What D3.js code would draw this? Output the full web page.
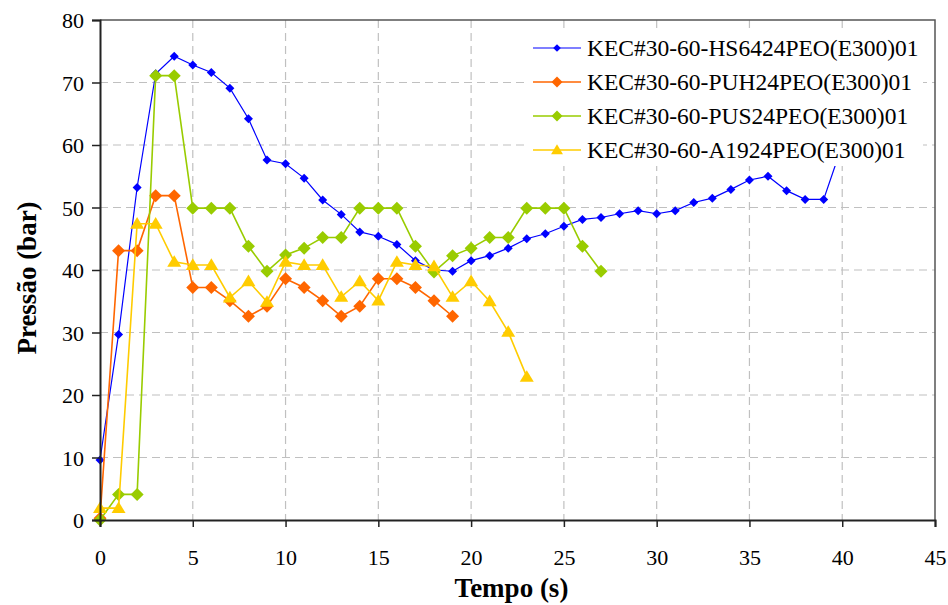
<!DOCTYPE html>
<html>
<head>
<meta charset="utf-8">
<script src="https://cdn.jsdelivr.net/npm/d3@7"></script>
<style>
  body { margin: 0; background: #fff; }
</style>
</head>
<body>
<svg id="chart" width="948" height="605"></svg>
<script>
// ── 데이터 ──────────────────────────────────────────────
const seriesNames = [
  "KEC#30-60-HS6424PEO(E300)01",
  "KEC#30-60-PUH24PEO(E300)01",
  "KEC#30-60-PUS24PEO(E300)01",
  "KEC#30-60-A1924PEO(E300)01"
];
// 시간 t = 0,1,2,... (s)
const hs6424 = [9.6, 29.7, 53.2, 71.4, 74.2, 72.8, 71.6, 69.1, 64.2, 57.6, 57.0, 54.7, 51.2,
  48.9, 46.1, 45.4, 44.1, 41.5, 40.0, 39.8, 41.5, 42.3, 43.5, 45.0, 45.8, 47.0, 48.1, 48.4,
  49.0, 49.5, 49.0, 49.5, 50.8, 51.5, 52.9, 54.4, 55.0, 52.7, 51.3, 51.3, 60.0];
const puh24 = [0.3, 43.1, 43.1, 51.9, 51.9, 37.2, 37.2, 35.1, 32.6, 34.2, 38.6, 37.2, 35.1,
  32.6, 34.2, 38.6, 38.6, 37.2, 35.1, 32.6];
const pus24 = [0.0, 4.1, 4.1, 71.1, 71.1, 49.9, 49.9, 49.9, 43.8, 39.8, 42.4, 43.5, 45.2,
  45.2, 49.9, 49.9, 49.9, 43.8, 39.7, 42.3, 43.5, 45.2, 45.2, 49.9, 49.9, 49.9, 43.8, 39.8];
const a1924 = [1.9, 1.9, 47.4, 47.4, 41.3, 40.8, 40.8, 35.6, 38.2, 34.9, 41.3, 40.8, 40.8,
  35.7, 38.2, 35.1, 41.3, 40.8, 40.6, 35.7, 38.2, 35.0, 30.1, 22.9];
const xTicks = [0, 5, 10, 15, 20, 25, 30, 35, 40, 45];
const yTicks = [0, 10, 20, 30, 40, 50, 60, 70, 80];

// 시리즈별 스타일 [색, 마커, 마커 크기, 선 굵기]
const STYLE = [
  ["#0000ff", "diamond", 4.5, 1.2],
  ["#ff6600", "diamond", 6.5, 1.6],
  ["#99cc00", "diamond", 6.5, 1.6],
  ["#ffcc00", "triangle", 7, 1.6]
];
const allValues = [hs6424, puh24, pus24, a1924];
const FONT = "'Liberation Serif', 'DejaVu Serif', serif";

// ── 레이아웃 ────────────────────────────────────────────
const L = 100, R = 935, T = 20, B = 520;
const svg = d3.select("#chart");
const x = d3.scaleLinear().domain([0, 45]).range([L, R]);
const y = d3.scaleLinear().domain([0, 80]).range([B, T]);

// 그리드 (점선)
svg.append("g").selectAll("line").data(yTicks.filter(v => v > 0 && v < 80)).join("line")
  .attr("x1", L).attr("x2", R).attr("y1", d => y(d)).attr("y2", d => y(d))
  .attr("stroke", "#c0c0c0").attr("stroke-width", 1.2).attr("stroke-dasharray", "8,5");
svg.append("g").selectAll("line").data(xTicks.filter(v => v > 0 && v < 45)).join("line")
  .attr("x1", d => x(d)).attr("x2", d => x(d)).attr("y1", T).attr("y2", B)
  .attr("stroke", "#c0c0c0").attr("stroke-width", 1.2).attr("stroke-dasharray", "8,5");

// 외곽선 (위/오른쪽)
svg.append("path")
  .attr("d", `M${L},${T}H${R}V${B}`)
  .attr("fill", "none").attr("stroke", "#555").attr("stroke-width", 1.5);

// 마커 경로
function markerPath(type, s) {
  if (type === "diamond") return `M0,${-s}L${s},0L0,${s}L${-s},0Z`;
  return `M0,${-s * 0.95}L${s},${s * 0.7}L${-s},${s * 0.7}Z`;
}

// 시리즈 그리기
const line = d3.line().x((d, i) => x(i)).y(d => y(d));
allValues.forEach((vals, k) => {
  const [color, shape, size, sw] = STYLE[k];
  const g = svg.append("g");
  g.append("path").datum(vals).attr("d", line)
    .attr("fill", "none").attr("stroke", color).attr("stroke-width", sw);
  g.selectAll("path.m").data(vals).join("path").attr("class", "m")
    .attr("transform", (d, i) => `translate(${x(i)},${y(d)})`)
    .attr("d", markerPath(shape, size))
    .attr("fill", color);
});

// 축
const yAxis = svg.append("g").attr("transform", `translate(${L},0)`)
  .call(d3.axisLeft(y).tickValues(yTicks).tickSize(8).tickPadding(8));
const xAxis = svg.append("g").attr("transform", `translate(0,${B})`)
  .call(d3.axisBottom(x).tickValues(xTicks).tickSize(7).tickPadding(22));
[yAxis, xAxis].forEach(a => {
  a.attr("font-family", null);
  a.select(".domain").attr("stroke", "#222").attr("stroke-width", 2);
  a.selectAll(".tick line").attr("stroke", "#222").attr("stroke-width", 1.5);
  a.selectAll(".tick text").style("font-size", "22px").style("font-family", FONT)
    .attr("fill", "#000");
});
yAxis.selectAll(".tick text").attr("dy", "0.35em");

// 축 제목
svg.append("text").attr("x", (L + R) / 2 - 6).attr("y", 597)
  .attr("text-anchor", "middle").style("font-family", FONT)
  .style("font-size", "27px").style("font-weight", "bold")
  .text("Tempo (s)");
svg.append("text").attr("transform", `translate(36,${(T + B) / 2 + 8}) rotate(-90)`)
  .attr("text-anchor", "middle").style("font-family", FONT)
  .style("font-size", "27px").style("font-weight", "bold")
  .text("Pressão (bar)");

// 범례 (흰 배경이 선을 가림)
const lg = svg.append("g");
lg.append("rect").attr("x", 526).attr("y", 28).attr("width", 397).attr("height", 138)
  .attr("fill", "#fff");
seriesNames.forEach((name, k) => {
  const [color, shape, size, sw] = STYLE[k];
  const yy = 48 + k * 34;
  lg.append("line").attr("x1", 533).attr("x2", 581).attr("y1", yy).attr("y2", yy)
    .attr("stroke", color).attr("stroke-width", sw);
  lg.append("path").attr("transform", `translate(557,${yy})`)
    .attr("d", markerPath(shape, size * 0.85)).attr("fill", color);
  lg.append("text").attr("x", 587).attr("y", yy).attr("dy", "0.35em")
    .style("font-family", FONT).style("font-size", "23.5px").text(name);
});
</script>
</body>
</html>
